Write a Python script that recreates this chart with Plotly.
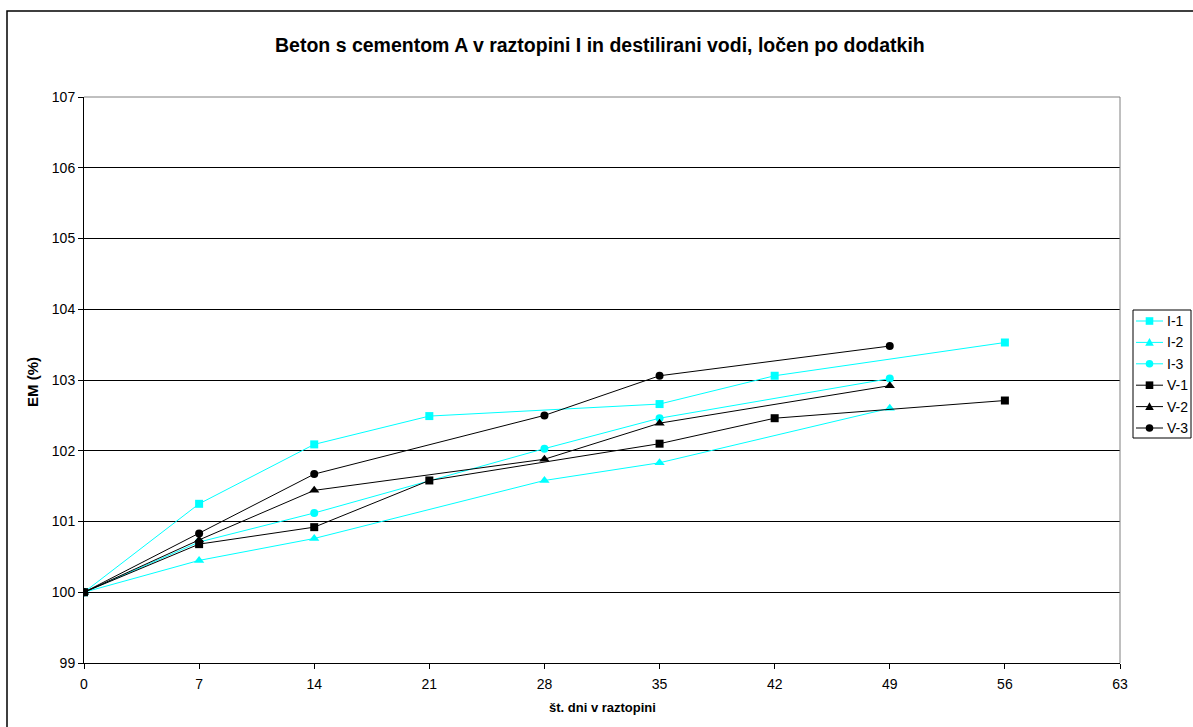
import plotly.graph_objects as go

# Data
days_I1 = [0, 7, 14, 21, 35, 42, 56]
vals_I1 = [100.0, 101.25, 102.09, 102.49, 102.66, 103.06, 103.53]

days_I2 = [0, 7, 14, 28, 35, 49]
vals_I2 = [100.0, 100.45, 100.76, 101.58, 101.83, 102.60]

days_I3 = [0, 7, 14, 28, 35, 49]
vals_I3 = [100.0, 100.71, 101.12, 102.03, 102.46, 103.02]

days_V1 = [0, 7, 14, 21, 35, 42, 56]
vals_V1 = [100.0, 100.68, 100.92, 101.58, 102.10, 102.46, 102.71]

days_V2 = [0, 7, 14, 28, 35, 49]
vals_V2 = [100.0, 100.74, 101.44, 101.88, 102.39, 102.92]

days_V3 = [0, 7, 14, 28, 35, 49]
vals_V3 = [100.0, 100.83, 101.67, 102.50, 103.06, 103.48]

series_names = ["I-1", "I-2", "I-3", "V-1", "V-2", "V-3"]

x_ticks = [0, 7, 14, 21, 28, 35, 42, 49, 56, 63]
y_ticks = [99, 100, 101, 102, 103, 104, 105, 106, 107]

CYAN = "#00FFFF"
BLACK = "#000000"

series = [
    (series_names[0], days_I1, vals_I1, CYAN, "square"),
    (series_names[1], days_I2, vals_I2, CYAN, "triangle-up"),
    (series_names[2], days_I3, vals_I3, CYAN, "circle"),
    (series_names[3], days_V1, vals_V1, BLACK, "square"),
    (series_names[4], days_V2, vals_V2, BLACK, "triangle-up"),
    (series_names[5], days_V3, vals_V3, BLACK, "circle"),
]

# drawing order: V-1 last so its square sits on top at day 0
draw_order = [0, 1, 2, 4, 5, 3]

fig = go.Figure()
for idx in draw_order:
    name, xs, ys, col, sym = series[idx]
    fig.add_trace(go.Scatter(
        x=xs, y=ys, name=name, mode="lines+markers", showlegend=False,
        line=dict(color=col, width=1),
        marker=dict(symbol=sym, color=col, size=9 if sym == "triangle-up" else 8,
                    line=dict(width=0)),
    ))

FONT = "Liberation Sans, Arial, sans-serif"

L, R, T, B = 84, 1120, 97, 663
W, H = 1193, 727
pw, ph = R - L, B - T

def px_x(x):
    return (x - L) / pw

def px_y(y):
    return (B - y) / ph

shapes = [
    dict(type="rect", xref="paper", yref="paper",
         x0=px_x(7), x1=px_x(1200), y0=px_y(735), y1=px_y(11),
         line=dict(color="black", width=1.5), layer="below"),
    dict(type="line", xref="paper", yref="paper",
         x0=0, x1=1, y0=1, y1=1, line=dict(color="#808080", width=1)),
    dict(type="line", xref="paper", yref="paper",
         x0=1, x1=1, y0=0, y1=1, line=dict(color="#808080", width=1)),
    # legend box
    dict(type="rect", xref="paper", yref="paper",
         x0=px_x(1133), x1=px_x(1191), y0=px_y(438), y1=px_y(310),
         line=dict(color="black", width=1), fillcolor="white"),
]
annotations = [
    dict(text="<b>Beton s cementom A v raztopini I in destilirani vodi, ločen po dodatkih</b>",
         xref="paper", yref="paper", x=px_x(600), y=px_y(45),
         xanchor="center", yanchor="middle", showarrow=False,
         font=dict(family=FONT, size=19.5, color="black")),
    dict(text="<b>št. dni v raztopini</b>",
         xref="paper", yref="paper", x=px_x(602), y=px_y(708),
         xanchor="center", yanchor="middle", showarrow=False,
         font=dict(family=FONT, size=13, color="black")),
    dict(text="<b>EM (%)</b>", textangle=-90,
         xref="paper", yref="paper", x=px_x(32), y=px_y(382),
         xanchor="center", yanchor="middle", showarrow=False,
         font=dict(family=FONT, size=15, color="black")),
]

# manual legend entries
for i, (name, xs, ys, col, sym) in enumerate(series):
    cy = 321 + i * 21.4
    shapes.append(dict(type="line", xref="paper", yref="paper",
                       x0=px_x(1136), x1=px_x(1163), y0=px_y(cy), y1=px_y(cy),
                       line=dict(color=col, width=1)))
    cx = 1149.5
    s = 3.8
    if sym == "square":
        shapes.append(dict(type="rect", xref="paper", yref="paper",
                           x0=px_x(cx - s), x1=px_x(cx + s),
                           y0=px_y(cy + s), y1=px_y(cy - s),
                           line=dict(width=0), fillcolor=col))
    elif sym == "circle":
        shapes.append(dict(type="circle", xref="paper", yref="paper",
                           x0=px_x(cx - s), x1=px_x(cx + s),
                           y0=px_y(cy + s), y1=px_y(cy - s),
                           line=dict(width=0), fillcolor=col))
    else:
        p = "M {:.5f},{:.5f} L {:.5f},{:.5f} L {:.5f},{:.5f} Z".format(
            px_x(cx), px_y(cy - s - 0.5),
            px_x(cx + s + 0.5), px_y(cy + s - 0.5),
            px_x(cx - s - 0.5), px_y(cy + s - 0.5))
        shapes.append(dict(type="path", xref="paper", yref="paper", path=p,
                           line=dict(width=0), fillcolor=col))
    annotations.append(dict(text=name, xref="paper", yref="paper",
                            x=px_x(1165), y=px_y(cy), xanchor="left",
                            yanchor="middle", showarrow=False,
                            font=dict(family=FONT, size=14, color="black")))

fig.update_layout(
    width=W, height=H,
    margin=dict(l=L, r=W - R, t=T, b=H - B, autoexpand=False),
    paper_bgcolor="white", plot_bgcolor="white",
    font=dict(family=FONT, size=12, color="black"),
    showlegend=False,
    xaxis=dict(
        range=[0, 63], tickvals=x_ticks, ticks="outside", ticklen=5,
        tickcolor="black", showgrid=False, zeroline=False,
        showline=True, linecolor="black", linewidth=1,
        ticklabelstandoff=3,
        tickfont=dict(family=FONT, size=14, color="black"),
    ),
    yaxis=dict(
        range=[99, 107], tickvals=y_ticks, ticks="outside", ticklen=5,
        tickcolor="black", showgrid=True, gridcolor="black", gridwidth=1,
        zeroline=False, showline=True, linecolor="black", linewidth=1,
        tickfont=dict(family=FONT, size=14, color="black"),
    ),
    shapes=shapes,
    annotations=annotations,
)

fig.write_html("out.html")
